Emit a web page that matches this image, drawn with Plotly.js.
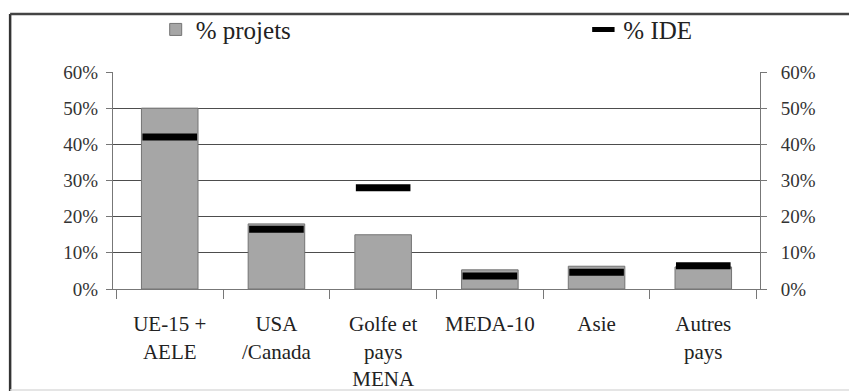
<!DOCTYPE html>
<html>
<head>
<meta charset="utf-8">
<script src="https://cdn.plot.ly/plotly-3.0.1.min.js"></script>
<style>
  html, body { margin: 0; padding: 0; background: #fff; }
  #chart { width: 849px; height: 392px; }
</style>
</head>
<body>
<div id="chart"></div>
<script>
// Origin regions of investment projects
const regions = ["UE-15 +<br>AELE", "USA<br>/Canada", "Golfe et<br>pays<br>MENA", "MEDA-10", "Asie", "Autres<br>pays"];
// Share of projects (%)
const projets = [50, 18, 15, 5.3, 6.3, 6.1];
// Share of FDI amounts (%)
const ide = [42, 16.5, 28, 3.6, 4.6, 6.4];

const textFont = "Liberation Serif";

const traces = [
  {
    type: "bar",
    name: "% projets",
    x: regions,
    y: projets,
    width: 0.53,
    legend: "legend",
    marker: { color: "#a6a6a6", line: { color: "#747474", width: 1 } },
    hoverinfo: "skip"
  },
  {
    type: "scatter",
    mode: "markers",
    name: "% IDE",
    x: regions,
    y: ide,
    yaxis: "y2",
    legend: "legend2",
    marker: { symbol: "line-ew", size: 39, color: "#000", line: { color: "#000", width: 7 } },
    hoverinfo: "skip"
  }
];

const ticks = [0, 10, 20, 30, 40, 50, 60];
const tickText = ticks.map(v => v + "%");

const legendBase = {
  orientation: "h",
  yanchor: "middle",
  y: 1.195,
  xanchor: "left",
  font: { family: textFont, size: 25, color: "#222" },
  bgcolor: "rgba(0,0,0,0)",
  borderwidth: 0
};

const layout = {
  width: 849,
  height: 392,
  margin: { l: 113, r: 89, t: 72, b: 103, autoexpand: false },
  paper_bgcolor: "#fff",
  plot_bgcolor: "#fff",
  font: { family: textFont, color: "#222", size: 15 },
  showlegend: true,
  legend: Object.assign({}, legendBase, { x: 0.066 }),
  legend2: Object.assign({}, legendBase, { x: 0.727 }),
  xaxis: {
    type: "category",
    tickson: "boundaries",
    ticks: "outside",
    ticklen: 9,
    tickcolor: "#777",
    showline: true,
    linecolor: "#777",
    linewidth: 1,
    showgrid: false,
    tickfont: { family: textFont, size: 21, color: "#222" },
    ticklabelstandoff: 16,
    automargin: false,
    fixedrange: true
  },
  yaxis: {
    range: [0, 60],
    tickvals: ticks,
    ticktext: tickText,
    ticks: "outside",
    ticklen: 6,
    tickcolor: "#777",
    showline: true,
    linecolor: "#777",
    showgrid: true,
    gridcolor: "#4d4d4d",
    gridwidth: 1,
    zeroline: false,
    tickfont: { family: textFont, size: 19, color: "#333" },
    ticklabelstandoff: 4,
    automargin: false,
    fixedrange: true
  },
  yaxis2: {
    overlaying: "y",
    side: "right",
    matches: "y",
    range: [0, 60],
    tickvals: ticks,
    ticktext: tickText,
    ticks: "outside",
    ticklen: 6,
    tickcolor: "#777",
    showline: true,
    linecolor: "#777",
    showgrid: false,
    zeroline: false,
    tickfont: { family: textFont, size: 19, color: "#333" },
    ticklabelstandoff: 10,
    automargin: false,
    fixedrange: true
  },
  shapes: [
    // outer frame: left, top and bottom edges
    { type: "line", xref: "paper", yref: "paper", x0: -0.159, x1: -0.159, y0: -0.47, y1: 1.267,
      line: { color: "#333", width: 2.5 } },
    { type: "line", xref: "paper", yref: "paper", x0: -0.159, x1: 1.2, y0: 1.267, y1: 1.267,
      line: { color: "#444", width: 2.5 } },
    { type: "line", xref: "paper", yref: "paper", x0: -0.159, x1: 1.2, y0: -0.465, y1: -0.465,
      line: { color: "#ddd", width: 1.5 } }
  ]
};

Plotly.newPlot("chart", traces, layout, { displayModeBar: false, staticPlot: true });
</script>
</body>
</html>
